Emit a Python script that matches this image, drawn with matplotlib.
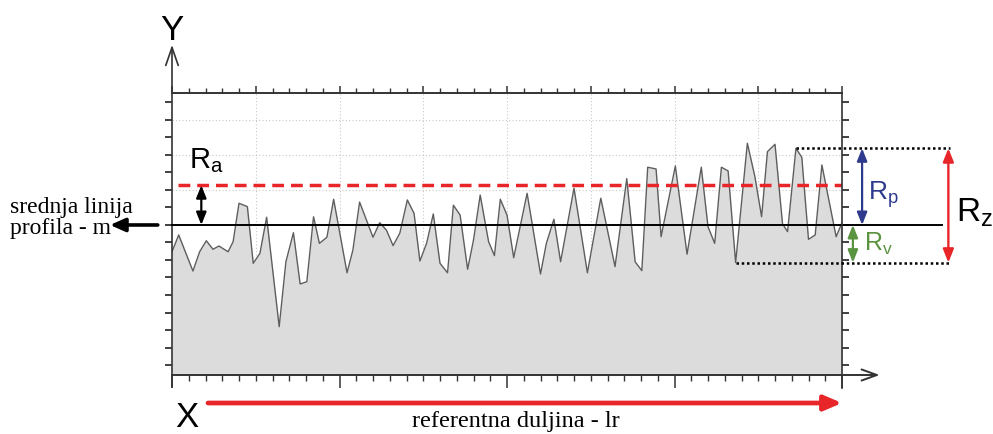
import matplotlib
matplotlib.use('Agg')
import matplotlib.pyplot as plt
import numpy as np

# ---------------- data ----------------
profile_x = [0.00, 0.08, 0.25, 0.33, 0.41, 0.49, 0.56, 0.67, 0.73, 0.80,
             0.90, 0.97, 1.05, 1.13, 1.28, 1.36, 1.45, 1.53, 1.61, 1.69,
             1.76, 1.85, 1.93, 2.09, 2.16, 2.24, 2.40, 2.48, 2.56, 2.64,
             2.72, 2.81, 2.89, 2.96, 3.04, 3.12, 3.20, 3.29, 3.36, 3.44,
             3.53, 3.60, 3.68, 3.78, 3.85, 3.92, 4.00, 4.08, 4.24, 4.40,
             4.47, 4.56, 4.64, 4.80, 4.96, 5.12, 5.29, 5.43, 5.53, 5.61,
             5.68, 5.78, 5.84, 6.01, 6.15, 6.32, 6.40, 6.48, 6.56, 6.64,
             6.73, 6.87, 6.96, 7.04, 7.11, 7.20, 7.29, 7.35, 7.45, 7.52,
             7.60, 7.68, 7.76, 7.93, 8.00]
profile_y = [-1.53, -0.57, -2.63, -1.53, -0.90, -1.39, -1.20, -1.53, -0.95, 1.24,
             1.05, -2.19, -1.62, 0.44, -5.81, -2.10, -0.44, -3.37, -3.24, 0.47,
             -1.05, -0.70, 1.47, -2.73, -1.43, 1.31, -0.70, 0.13, -0.29, -1.18,
             -0.47, 1.43, 0.67, -2.06, -1.05, 0.63, -2.19, -2.73, 1.13, 0.57,
             -2.53, -0.86, 1.71, -0.95, -1.75, 1.47, 0.57, -1.87, 1.81, -2.80,
             -1.05, 0.33, -2.10, 2.10, -2.73, 1.53, -2.38, 2.65, -2.10, -2.61,
             3.30, 3.20, -0.67, 3.37, -1.67, 3.30, -0.10, -1.05, 3.30, 3.09,
             -2.15, 4.67, 2.76, 0.47, 4.19, 4.61, 0.06, -0.38, 4.38, 3.87,
             -0.82, -0.57, 3.43, -0.67, 0.13]
mean_level = 0.0
ra_level = 2.27
rp_level = 4.38
rv_level = -2.15
rp_start_x = 7.45
rv_start_x = 6.73

x_label = 'X'
y_label = 'Y'
mean_line_label = ['srednja linija', 'profila - m']
length_label = 'referentna duljina - lr'
ra_label = r'$\mathregular{R_a}$'
rp_label = r'$\mathregular{R_p}$'
rv_label = r'$\mathregular{R_v}$'
rz_label = r'$\mathregular{R_z}$'

# ---------------- styling ----------------
SANS = ['Liberation Sans', 'DejaVu Sans']
SERIF = ['Liberation Serif', 'DejaVu Serif']
RED = '#e8262a'
NAVY = '#2e3a8c'
GREEN = '#5a9440'
AXC = '#333333'
plt.rcParams['font.family'] = SANS

W, H = 993, 434
fig = plt.figure(figsize=(W / 100, H / 100), dpi=100)


def fpx(x, y):
    return x / W, 1 - y / H


ax = fig.add_axes([172 / W, 1 - 375 / H, 670 / W, 282 / H])
x0, x1 = 0, 8
y0, y1 = -8.57, 7.54
ax.set_xlim(x0, x1)
ax.set_ylim(y0, y1)
ax.patch.set_alpha(0)

# grid
for gx in range(1, 8):
    ax.axvline(gx, color='#c8c8c8', lw=0.8, ls=(0, (1, 2)), zorder=0)
for gy in (2, 4, 6):
    ax.axhline(gy, color='#c8c8c8', lw=0.8, ls=(0, (1, 2)), zorder=0)

# profile
ax.fill_between(profile_x, profile_y, y0, color='#dcdcdc', lw=0, zorder=1)
ax.plot(profile_x, profile_y, color='#5e5e5e', lw=1.0, zorder=2)

# mean line and Ra line
ax.plot([x0, 9.19], [mean_level, mean_level], color='black', lw=1.4,
        zorder=4, clip_on=False)
ax.plot([0.07, x1], [ra_level, ra_level], color=RED, lw=2.5,
        dashes=(3.4, 2.0), zorder=4)

# ticks
ax.set_yticks(np.arange(-8, 8))
ax.tick_params(axis='y', which='major', left=True, right=True, direction='out',
               length=5.0, width=1.3, color=AXC, labelleft=False, labelright=False)
ax.set_xticks(np.arange(0, 9, 2))
ax.set_xticks(np.arange(0, 8.01, 0.2), minor=True)
ax.tick_params(axis='x', which='major', bottom=True, top=False, direction='out',
               length=9.5, width=1.1, color=AXC, labelbottom=False)
ax.tick_params(axis='x', which='minor', bottom=True, top=False, direction='out',
               length=4.3, width=1.0, color=AXC)
for s in ('left', 'bottom', 'right', 'top'):
    ax.spines[s].set_visible(False)

top = ax.twiny()
top.set_xlim(x0, x1)
top.set_xticks(np.arange(0, 9, 1))
top.set_xticks(np.arange(0, 8.01, 0.2), minor=True)
top.tick_params(axis='x', which='major', top=True, bottom=False, direction='out',
                length=5.0, width=1.1, color=AXC, labeltop=False, labelbottom=False)
top.tick_params(axis='x', which='minor', top=True, bottom=False, direction='out',
                length=3.5, width=1.0, color=AXC)
for s in ('left', 'bottom', 'right'):
    top.spines[s].set_visible(False)
top.spines['top'].set_linewidth(1.4)
top.spines['top'].set_color(AXC)

# axis lines with open arrows
ax.annotate('', xy=(0, 10.29), xytext=(0, -9.26),
            arrowprops=dict(arrowstyle='->,head_length=1.3,head_width=0.45',
                            lw=1.2, color=AXC, shrinkA=0, shrinkB=0),
            annotation_clip=False)
ax.annotate('', xy=(8.45, y0), xytext=(0, y0),
            arrowprops=dict(arrowstyle='->,head_length=1.1,head_width=0.4',
                            lw=1.4, color=AXC, shrinkA=0, shrinkB=0),
            annotation_clip=False)
ax.plot([x1, x1], [y1, -9.31], color=AXC, lw=1.2, clip_on=False, zorder=5)


def darrow(x, ya, yb, color, lw, hl=0.7, hw=0.3):
    ax.annotate('', xy=(x, ya), xytext=(x, yb),
                arrowprops=dict(arrowstyle='<|-|>,head_length=%s,head_width=%s' % (hl, hw),
                                lw=lw, color=color, shrinkA=0, shrinkB=0),
                annotation_clip=False, zorder=6)


# Ra arrow
darrow(0.35, ra_level, mean_level, 'black', 1.6, 0.75, 0.3)

# dotted Rp / Rv lines
ax.plot([rp_start_x, 9.29], [rp_level, rp_level], color='black', lw=1.8,
        dashes=(1, 1.1), clip_on=False, zorder=5)
ax.plot([rv_start_x, 9.29], [rv_level, rv_level], color='black', lw=1.8,
        dashes=(1, 1.1), clip_on=False, zorder=5)

darrow(8.24, rp_level, mean_level, NAVY, 1.6, 0.75, 0.3)
darrow(8.13, rv_level, mean_level, GREEN, 1.6, 0.75, 0.3)
darrow(9.27, rv_level, rp_level, RED, 1.7, 0.8, 0.32)

# mean-line pointer arrow
ax.annotate('', xy=(-0.74, 0), xytext=(-0.17, 0),
            arrowprops=dict(arrowstyle='-|>,head_length=0.9,head_width=0.4',
                            lw=2.6, color='black', shrinkA=0, shrinkB=0),
            annotation_clip=False)

# reference length arrow
ax.annotate('', xy=(8.0, -10.17), xytext=(0.43, -10.17),
            arrowprops=dict(arrowstyle='-|>,head_length=1.05,head_width=0.45',
                            lw=3.4, color=RED, shrinkA=0, shrinkB=0),
            annotation_clip=False)

# texts
fig.text(*fpx(172, 40), y_label, ha='center', va='baseline', fontsize=25, family=SANS)
fig.text(*fpx(187, 427), x_label, ha='center', va='baseline', fontsize=25, family=SANS)
fig.text(*fpx(10, 213), mean_line_label[0], ha='left', va='baseline', fontsize=17, family=SERIF)
fig.text(*fpx(10, 234), mean_line_label[1], ha='left', va='baseline', fontsize=17, family=SERIF)
fig.text(*fpx(516, 427), length_label, ha='center', va='baseline', fontsize=17.5, family=SERIF)
fig.text(*fpx(189, 168), ra_label, ha='left', va='baseline', fontsize=21, color='black')
fig.text(*fpx(868, 200), rp_label, ha='left', va='baseline', fontsize=19, color=NAVY)
fig.text(*fpx(864, 251), rv_label, ha='left', va='baseline', fontsize=18, color=GREEN)
fig.text(*fpx(956, 222), rz_label, ha='left', va='baseline', fontsize=24, color='black')

fig.savefig('out.png', dpi=100)
